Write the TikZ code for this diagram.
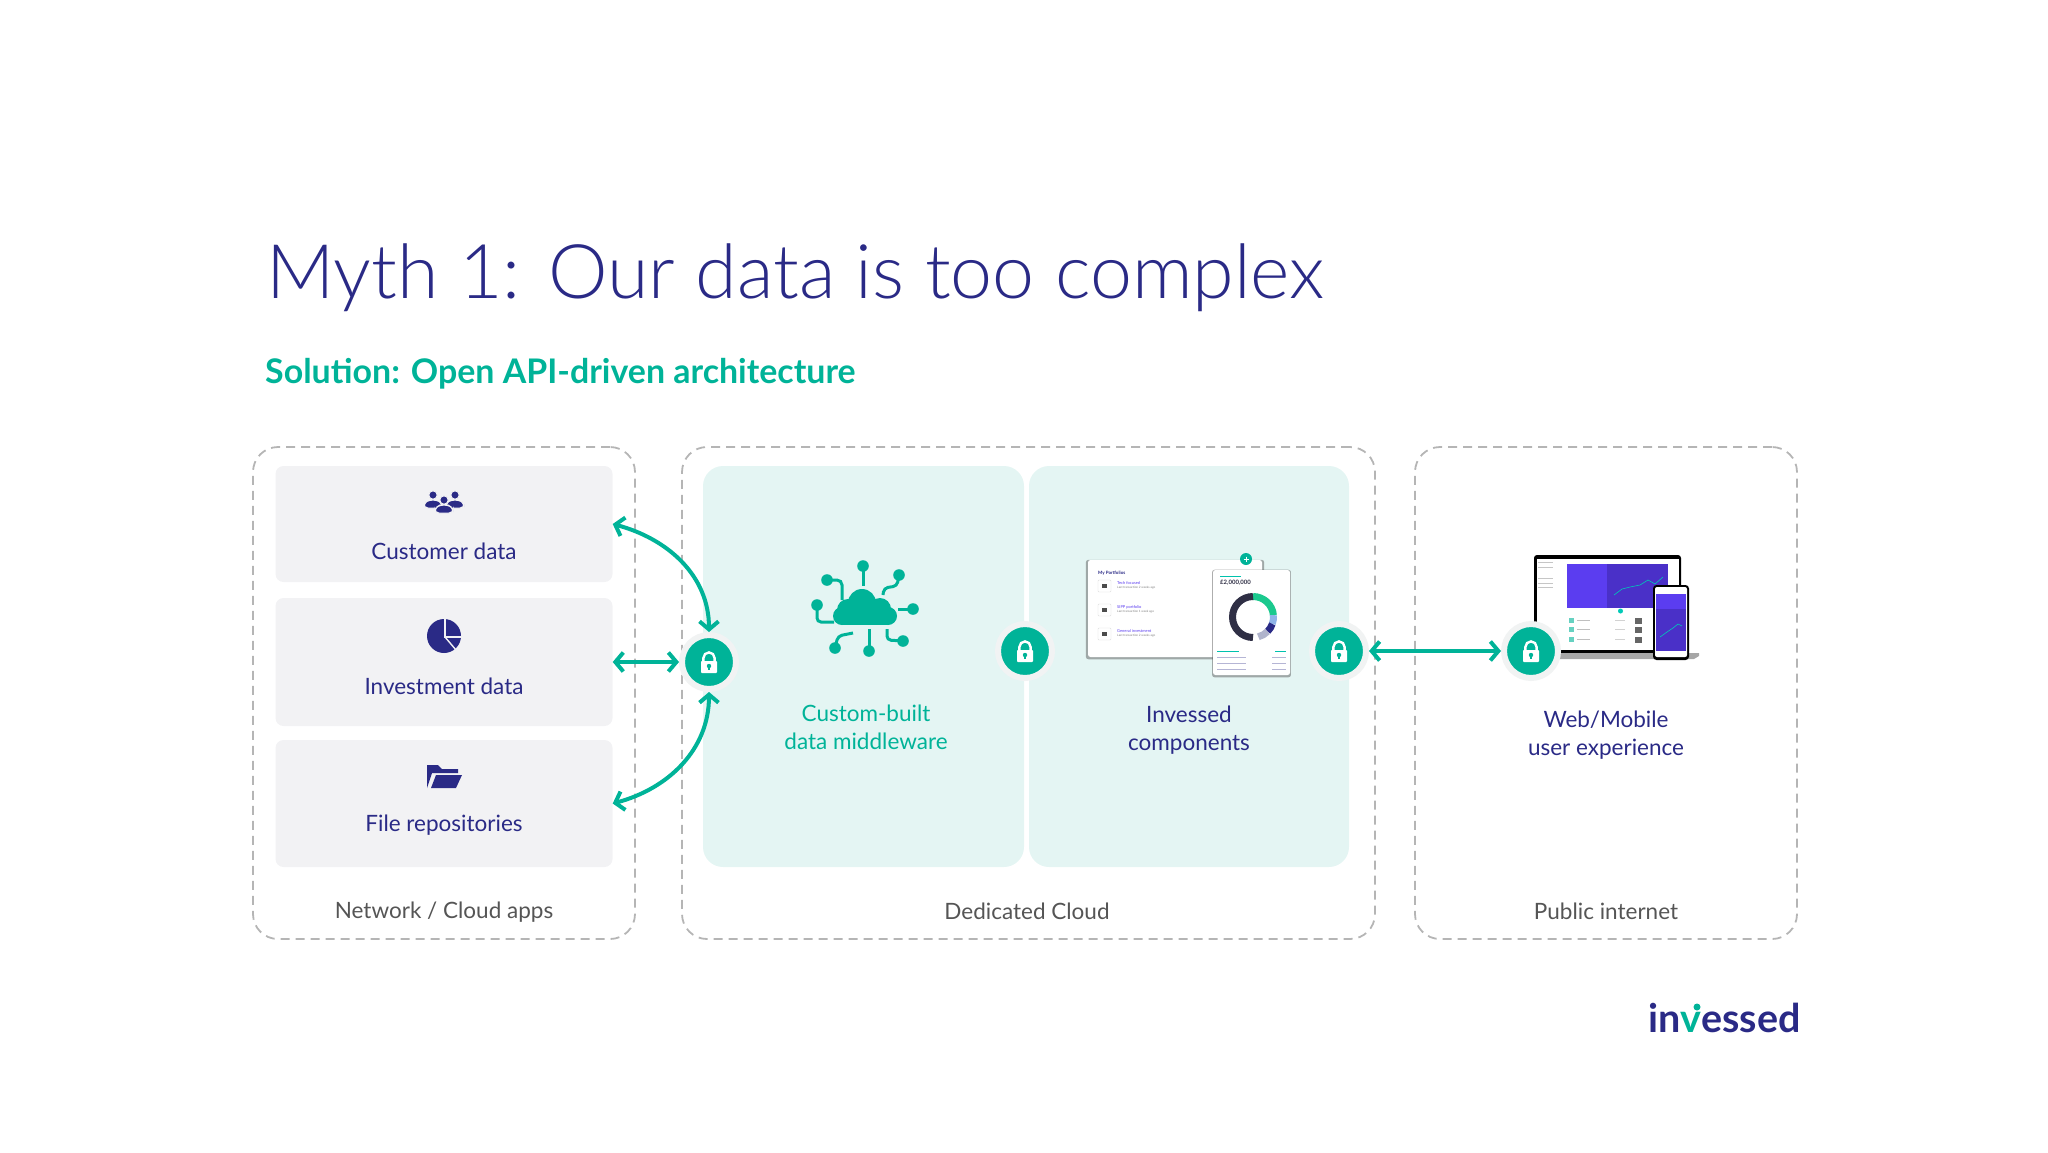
\documentclass[tikz,border=0pt]{standalone}
\usepackage{fontspec}
\setmainfont{Lato}
\newfontfamily\lightfont{Lato Light}
\usepackage{tikz}
\usetikzlibrary{arrows.meta,shadows}

\definecolor{navyc}{HTML}{2A2A86}
\definecolor{tealc}{HTML}{00B398}
\definecolor{grayc}{HTML}{F2F2F4}
\definecolor{mintc}{HTML}{E4F5F3}
\definecolor{halo}{HTML}{F1F3F3}
\definecolor{dashc}{HTML}{B5B5B5}
\definecolor{capc}{HTML}{555555}
\definecolor{violetc}{HTML}{5B3DF0}
\definecolor{violetd}{HTML}{4A30C8}
\definecolor{ringa}{HTML}{1BC98E}
\definecolor{ringb}{HTML}{8FB4E8}
\definecolor{ringc}{HTML}{B0B4CC}
\definecolor{ringd}{HTML}{2F2F45}

\tikzset{
	zone/.style={draw=dashc,line width=1.8pt,dash pattern=on 9pt off 6pt,rounded corners=25pt,inner sep=0pt},
	graybox/.style={fill=grayc,rounded corners=8pt,minimum width=337pt,inner sep=0pt},
	mintbox/.style={fill=mintc,rounded corners=20pt,minimum height=401pt,inner sep=0pt},
	locknode/.style={circle,fill=tealc,draw=halo,line width=6pt,minimum size=54pt,inner sep=0pt},
	link/.style={tealc,line width=4pt,{Straight Barb[length=8pt,width=19pt,line width=4pt]}-{Straight Barb[length=8pt,width=19pt,line width=4pt]}},
	wire/.style={tealc,line width=3pt},
	card/.style={fill=white,rounded corners=2.5pt,drop shadow={shadow xshift=0pt,shadow yshift=-1pt,shadow scale=1.025,opacity=.45,fill=black!70},inner sep=0pt},
	txt/.style={font=\fontsize{22.5}{28}\selectfont,align=center,text=navyc,inner sep=0pt},
	captxt/.style={txt,text=capc},
	tiny/.style={font=\fontsize{4}{5}\selectfont,inner sep=0pt,anchor=west},
	lockicon/.pic={
		\draw[white,line width=2.4pt] (-5.6,0) -- (-5.6,-4) arc[start angle=180,end angle=360,radius=5.6] -- (5.6,0);
		\fill[white,rounded corners=.8pt] (-8,-1) rectangle (8,11);
		\fill[tealc] (0,4) circle[radius=2.2];
		\fill[tealc] (-.9,4) rectangle (.9,8);
	},
	person/.pic={
		\fill[navyc,draw=#1,line width=1pt] (0,0) circle[radius=4.2];
		\fill[navyc,draw=#1,line width=1pt,rounded corners=4pt] (-9,13) -- (-9,8) -- (-4,5) -- (4,5) -- (9,8) -- (9,13) -- cycle;
	},
}

\begin{document}
\begin{tikzpicture}[x=1pt,y=-1pt]
	\useasboundingbox (0,0) rectangle (2048,1152);

	% heading
	\node[anchor=base west,inner sep=0pt,text=navyc,font=\lightfont\fontsize{75.3}{90}\selectfont] (title) at (266,298) {Myth 1: Our data is too complex};
	\node[anchor=base west,inner sep=0pt,text=tealc,font=\bfseries\fontsize{33.9}{40}\selectfont] (subtitle) at (265,383) {Solution: Open API-driven architecture};

	% three zones
	\node[zone,minimum width=382pt,minimum height=492pt] (network) at (444,693) {};
	\node[zone,minimum width=693pt,minimum height=492pt] (cloud) at (1028.5,693) {};
	\node[zone,minimum width=382pt,minimum height=492pt] (public) at (1606,693) {};
	\node[captxt] (networktxt) at (444,912) {Network / Cloud apps};
	\node[captxt] (cloudtxt) at (1027,911) {Dedicated Cloud};
	\node[captxt] (publictxt) at (1606,911) {Public internet};

	% boxes
	\node[graybox,minimum height=116pt] (custbox) at (444,524) {};
	\node[graybox,minimum height=128pt] (invbox) at (444,662) {};
	\node[graybox,minimum height=127pt] (filebox) at (444,803.5) {};
	\node[mintbox,minimum width=321pt] (midbox) at (863.5,666.5) {};
	\node[mintbox,minimum width=320pt] (compbox) at (1189,666.5) {};
	\node[txt] (custtxt) at (444,551) {Customer data};
	\node[txt] (invtxt) at (444,686) {Investment data};
	\node[txt] (filetxt) at (444,825) {File repositories};
	\node[txt,text=tealc] (midtxt) at (866,727.5) {Custom-built\\data middleware};
	\node[txt] (comptxt) at (1189,730.5) {Invessed\\components};
	\node[txt] (webtxt) at (1606,735) {Web/Mobile\\user experience};

	% people
	\pic at (433,495) {person=grayc};
	\pic at (455,495) {person=grayc};
	\pic at (444,500) {person=grayc};
	% pie
	\fill[navyc] (444,636) circle[radius=17];
	\draw[grayc,line width=1.4pt] (445,619) -- (445,637) -- (461,637);
	\draw[grayc,line width=1.4pt] (445,637) -- (456,650);
	% folder
	\fill[navyc] (427,788) -- (427,765) -- (438,765) -- (442,769) -- (458,769) -- (458,773) -- (432,773) -- cycle;
	\fill[navyc] (431,788) -- (436,775) -- (462,775) -- (456,788) -- cycle;

	% cloud
	\fill[tealc] (862,603) circle[radius=14];
	\fill[tealc] (848,610) circle[radius=11];
	\fill[tealc] (880,609) circle[radius=11];
	\fill[tealc] (842,616) circle[radius=9];
	\fill[tealc] (888,616) circle[radius=9];
	\fill[tealc] (842,611) rectangle (888,625);
	\foreach \x/\y in {863/566,827/580,899/575,913/609,817/605,835/648,869/651,903/641}
	{
		\fill[tealc] (\x,\y) circle[radius=5.8];
	}
	\draw[wire] (863,566) -- (863,586);
	\draw[wire,rounded corners=5pt] (827,580) -- (842,580) -- (842,600);
	\draw[wire,rounded corners=4pt] (899,575) -- (897,586) -- (884,588) -- (883,595);
	\draw[wire] (913,609) -- (898,609);
	\draw[wire,rounded corners=4pt] (817,605) -- (817,622) -- (834,622);
	\draw[wire,rounded corners=4pt] (835,648) -- (838,636) -- (853,633);
	\draw[wire] (869,651) -- (869,629);
	\draw[wire,rounded corners=4pt] (903,641) -- (887,640) -- (887,629);

	% portfolio card
	\fill[card] (1088,560) rectangle (1262,657);
	\node[tiny,text=navyc,font=\bfseries\fontsize{4.5}{5}\selectfont] (mytxt) at (1098,573) {My Portfolios};
	\foreach \y/\name/\ago in {586/Tech focused/2 weeks ago,610/SIPP portfolio/1 week ago,634/General investment/2 weeks ago}
	{
		\draw[gray!25,line width=.4pt,rounded corners=1pt] (1098,\y-6) rectangle (1111,\y+6);
		\fill[black!70] (1102,\y-2) rectangle (1107,\y+2);
		\node[tiny,text=violetc] at (1117,\y-3) {\name};
		\node[tiny,text=gray,font=\fontsize{3}{4}\selectfont] at (1117,\y+2) {Last transaction \ago};
	}
	\fill[tealc] (1246,559) circle[radius=6];
	\draw[white,line width=.7pt] (1243.5,559) -- (1248.5,559) (1246,556.5) -- (1246,561.5);
	\fill[card] (1213,570) rectangle (1290,675);
	\fill[tealc!80!cyan] (1220,575.5) rectangle (1241,577);
	\node[tiny,text=ringd,font=\bfseries\fontsize{6}{7}\selectfont] (totaltxt) at (1220,582.5) {£2,000,000};
	% donut, clockwise from the top
	\begin{scope}[line width=7pt]
		\draw[ringa] (1253,596.5) arc[start angle=-90,end angle=-5,radius=20.5];
		\draw[ringb] (1273.4,615.2) arc[start angle=-5,end angle=20,radius=20.5];
		\draw[navyc] (1272.3,624) arc[start angle=20,end angle=45,radius=20.5];
		\draw[ringc] (1267.5,631.5) arc[start angle=45,end angle=75,radius=20.5];
		\draw[ringd] (1253,637.5) arc[start angle=90,end angle=270,radius=20.5];
	\end{scope}
	\fill[tealc!80!cyan] (1217,650.5) rectangle (1238.5,652);
	\fill[tealc!80!cyan] (1275,650.5) rectangle (1286,652);
	\foreach \y in {657,663,669}
	{
		\fill[navyc!35] (1217,\y) rectangle (1246,\y+1.4);
		\fill[navyc!35] (1272,\y) rectangle (1286,\y+1.4);
	}

	% laptop and phone
	\fill[black,rounded corners=3pt] (1534,555) rectangle (1681,655);
	\fill[white] (1536.5,559) rectangle (1678.5,650);
	\fill[gray!70] (1534,653) -- (1699,653) -- (1699,656) -- (1694,659) -- (1540,659) -- cycle;
	\foreach \y in {562,567,578,583,587}
	{
		\fill[gray!45] (1538,\y) rectangle (1553,\y+.8);
	}
	\fill[violetc] (1567,564) rectangle (1608,608);
	\fill[violetd] (1607,564) rectangle (1668,608);
	\draw[tealc!70!cyan,line width=.6pt] (1614,595) -- (1622,589) -- (1630,587) -- (1640,585) -- (1648,580) -- (1655,584) -- (1663,577);
	\fill[tealc!70!cyan] (1620.5,611) circle[radius=2.5];
	\foreach \y in {620.5,629.5,639.5}
	{
		\fill[tealc!60] (1569,\y-2.5) rectangle (1574,\y+2.5);
		\fill[gray!50] (1577,\y-1) rectangle (1590,\y);
		\fill[gray!35] (1615,\y-.5) rectangle (1625,\y+.3);
		\fill[black!60] (1635,\y-3) rectangle (1642,\y+3);
	}
	\fill[black,rounded corners=3.5pt] (1653,585) rectangle (1689,660);
	\fill[white,rounded corners=2pt] (1655,587) rectangle (1687,657);
	\fill[violetd] (1656,594) rectangle (1686,651);
	\fill[violetc] (1656,594) rectangle (1686,609);
	\draw[tealc!70!cyan,line width=.6pt] (1660,637) -- (1667,632) -- (1673,628) -- (1678,624) -- (1682,626);

	% locks
	\node[locknode] (lockA) at (709,662) {};
	\node[locknode] (lockB) at (1025,651) {};
	\node[locknode] (lockC) at (1339,651) {};
	\node[locknode] (lockD) at (1531,651) {};
	\foreach \lock in {lockA,lockB,lockC,lockD}
	{
		\pic at (\lock) {lockicon};
	}

	% connectors
	\draw[link] (custbox.east) to[out=-15,in=90,looseness=1] (lockA.north);
	\draw[link] (invbox.east) -- (lockA.west);
	\draw[link] (filebox.east) to[out=15,in=-90,looseness=1] (lockA.south);
	\draw[link] (lockC.east) -- (lockD.west);

	% logo
	\node[anchor=base west,inner sep=0pt,text=navyc,font=\bfseries\fontsize{39.5}{48}\selectfont] (logo) at (1648,1032) {in\textcolor{tealc}{v}essed};
	\fill[tealc] (1697,1007) circle[radius=3.5];
\end{tikzpicture}
\end{document}
